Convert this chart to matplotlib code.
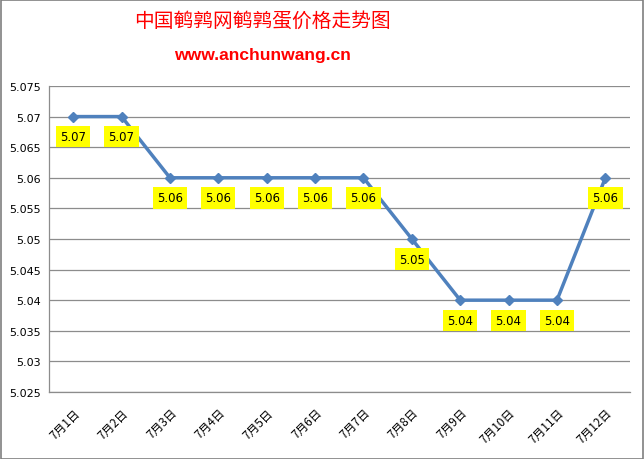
import matplotlib
matplotlib.use("Agg")
import matplotlib.pyplot as plt
from matplotlib.patches import Rectangle

plt.rcParams['font.family'] = ['DejaVu Sans', 'Noto Sans CJK SC']

categories = ["7月1日", "7月2日", "7月3日", "7月4日", "7月5日", "7月6日",
              "7月7日", "7月8日", "7月9日", "7月10日", "7月11日", "7月12日"]
values = [5.07, 5.07, 5.06, 5.06, 5.06, 5.06, 5.06, 5.05, 5.04, 5.04, 5.04, 5.06]
yticks = [5.025, 5.03, 5.035, 5.04, 5.045, 5.05, 5.055, 5.06, 5.065, 5.07, 5.075]
ytick_labels = ["5.025", "5.03", "5.035", "5.04", "5.045", "5.05", "5.055", "5.06", "5.065", "5.07", "5.075"]
title = "中国鹌鹑网鹌鹑蛋价格走势图"
subtitle = "www.anchunwang.cn"

fig = plt.figure(figsize=(6.44, 4.6), dpi=100)
fig.patch.set_facecolor('white')
fig.patches.append(Rectangle((0.001, 0.001), 0.997, 0.997, transform=fig.transFigure,
                             fill=False, edgecolor='#7f7f7f', linewidth=1.2))

ax = fig.add_axes([0.0761, 0.1457, 0.9015, 0.6652])
x = list(range(len(categories)))
ax.plot(x, values, color='#4F81BD', linewidth=2.5, marker='D', markersize=5.5,
        markerfacecolor='#4F81BD', markeredgecolor='#4F81BD', zorder=3)

for xi, v in zip(x, values):
    ax.annotate(f"{v:.2f}", (xi, v), xytext=(0, -14.5), textcoords='offset points',
                ha='center', va='center', fontsize=8.5, color='black',
                bbox=dict(boxstyle='square,pad=0.35', facecolor='#FFFF00', edgecolor='none'),
                zorder=4)

ax.set_xlim(-0.5, len(categories) - 0.5)
ax.set_ylim(5.025, 5.075)
ax.set_yticks(yticks)
ax.set_yticklabels(ytick_labels, fontsize=8)
ax.set_xticks(x)
ax.set_xticklabels(categories, rotation=45, ha='right', rotation_mode='anchor', fontsize=8.5,
                   family=['Noto Sans CJK SC', 'DejaVu Sans'])
ax.tick_params(axis='both', length=0, pad=6)
ax.tick_params(axis='x', pad=10)
ax.grid(axis='y', color='#8c8c8c', linewidth=0.9)
ax.set_axisbelow(True)
for s in ['top', 'right']:
    ax.spines[s].set_visible(False)
for s in ['left', 'bottom']:
    ax.spines[s].set_color('#8c8c8c')
    ax.spines[s].set_linewidth(0.9)

fig.text(0.407, 0.952, title, ha='center', va='center', fontsize=14.2, color='#FF0000',
         family=['Noto Sans CJK SC'])
fig.text(0.407, 0.880, subtitle, ha='center', va='center', fontsize=12.6, color='#FF0000',
         fontweight='bold', family=['Liberation Sans', 'DejaVu Sans'])

fig.savefig('out.png', dpi=100)
